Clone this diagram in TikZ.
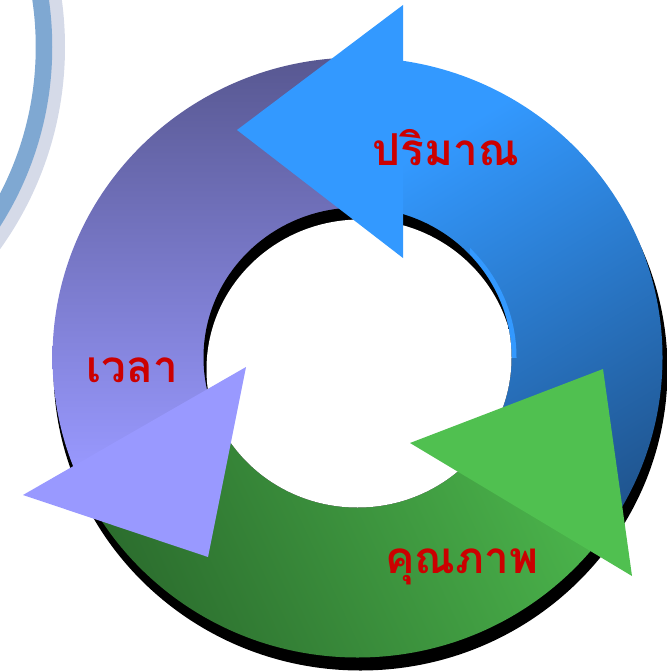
\documentclass[tikz,border=0pt]{standalone}
\usepackage{fontspec}
\newfontfamily\thaifont[Script=Thai]{Loma}
\definecolor{bluelight}{RGB}{51,153,255}
\definecolor{bluedark}{RGB}{28,72,122}
\definecolor{purpledark}{RGB}{68,68,112}
\definecolor{purplelight}{RGB}{153,153,255}
\definecolor{greendark}{RGB}{33,85,36}
\definecolor{greenlight}{RGB}{80,192,80}
\definecolor{txtred}{RGB}{204,0,0}
\definecolor{arcblue}{RGB}{127,168,210}
\definecolor{arcgray}{RGB}{213,218,232}
\pgfdeclarehorizontalshading{bluegrad}{100bp}{color(0bp)=(bluelight); color(40bp)=(bluelight); color(60bp)=(bluedark); color(100bp)=(bluedark)}
\pgfdeclarehorizontalshading{purplegrad}{100bp}{color(0bp)=(purpledark); color(40bp)=(purpledark); color(60bp)=(purplelight); color(100bp)=(purplelight)}
\pgfdeclarehorizontalshading{greengrad}{100bp}{color(0bp)=(greendark); color(40bp)=(greendark); color(60bp)=(greenlight); color(100bp)=(greenlight)}
\tikzset{
  lbl/.style={font=\thaifont\bfseries\fontsize{44}{48}\selectfont, text=txtred, inner sep=0pt, anchor=base},
  outerring/.style={x radius=305, y radius=300},
  innerring/.style={x radius=154, y radius=150},
}
\begin{document}
\begin{tikzpicture}[x=1pt,y=-1pt]
\useasboundingbox (0,0) rectangle (666,671);
\coordinate (C) at (357.5,357.5);
\coordinate (S) at (360.5,369.5);
% decorative arcs top-left
\begin{scope}
  \clip (0,0) rectangle (666,671);
  \draw[arcgray, line width=14pt] (-282,47) circle (340);
  \draw[arcblue, line width=16.5pt] (-282,47) circle (326);
\end{scope}
% shadow
\fill[black] (S) ellipse [x radius=307, y radius=301];
% green body
\begin{scope}
  \clip (-100,565.6) -- (357.5,303) -- (357.5,409.3) -- (855,707.3) -- (855,900) -- (-100,900) -- cycle;
  \clip (C) ellipse [outerring];
  \begin{scope}[transform canvas={shift={(160,610)}, rotate=25}]
    \shade[shading=greengrad] (-662,-1500) rectangle (993,1500);
  \end{scope}
\end{scope}
% purple body
\begin{scope}
  \clip (403,-100) -- (-100,-100) -- (-100,567.9) -- (358.5,304.7) -- (403,304.7) -- cycle;
  \clip (C) ellipse [outerring];
  \begin{scope}[transform canvas={shift={(200,68)}, rotate=-90}]
    \shade[shading=purplegrad] (-540,-1500) rectangle (810,1500);
  \end{scope}
\end{scope}
% blue body
\begin{scope}
  \clip (C) -- (855.5,691.7) -- (900,-100) -- (401,-100) -- (401,357.5) -- cycle;
  \clip (C) ellipse [outerring];
  \begin{scope}[transform canvas={shift={(540,220)}, rotate=-59}]
    \shade[shading=bluegrad] (-480,-1500) rectangle (720,1500);
  \end{scope}
\end{scope}
% light sliver at inner right
\begin{scope}
  \clip (470,235) rectangle (530,357.5);
  \fill[bluelight] (C) ellipse [x radius=159, y radius=155];
\end{scope}
% hole with inner shadow
\fill[black] (C) ellipse [innerring];
\begin{scope}
  \clip (C) ellipse [innerring];
  \fill[white] (S) ellipse [innerring];
\end{scope}
% arrow heads
\fill[greenlight] (410,443) -- (603,369) -- (632,576) -- cycle;
\fill[purplelight] (246,367) -- (208,557) -- (23,495) -- cycle;
\fill[bluelight] (403,5) -- (237,130) -- (403,258) -- cycle;
% labels
\node[lbl] (t1) at (446,165) {ปริมาณ};
\node[lbl] (t2) at (132.5,382) {เวลา};
\node[lbl] (t3) at (462,573) {คุณภาพ};
\end{tikzpicture}
\end{document}
